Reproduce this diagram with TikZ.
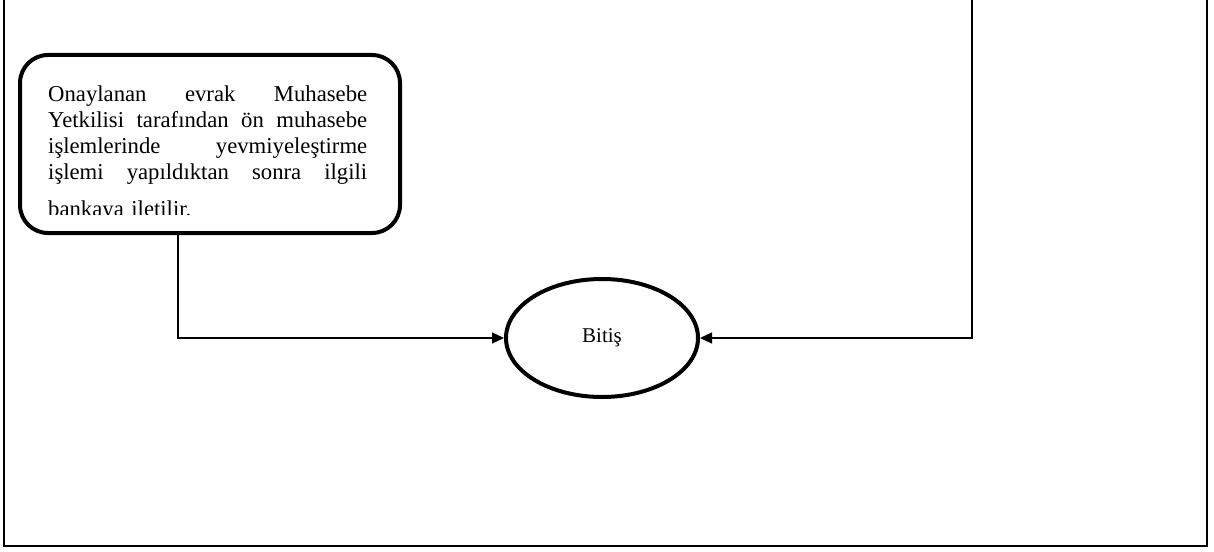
\documentclass[tikz,border=0pt]{standalone}
\usepackage{fontspec}
\setmainfont{Liberation Serif}
\usetikzlibrary{arrows.meta,positioning,shapes.geometric}
\newcommand{\jline}[1]{\makebox[319pt][l]{#1}}

\begin{document}
\begin{tikzpicture}[x=1pt,y=-1pt,>=Triangle,every node/.style={align=center},
  procbox/.style={draw, line width=4pt, rounded corners=28pt, minimum width=380pt, minimum height=178pt},
  endstate/.style={draw, ellipse, line width=4pt, minimum width=192pt, minimum height=118pt, font=\fontsize{21}{24}\selectfont},
  flowline/.style={line width=1.3pt, -{Triangle[length=12pt,width=11pt]}}]
  \useasboundingbox (0,0) rectangle (1214,551);
  % outer frame, open at the top
  \draw[line width=2.5pt] (4,0) -- (4,546) -- (1207,546) -- (1207,0);
  \node[procbox] (muhasebe) at (210,144) {};
  \begin{scope}
    \clip (40,70) rectangle (390,214);
    \node[anchor=north west, text width=319pt, align=left, inner sep=0pt, font=\fontsize{22.7}{25}\selectfont] (metin) at (48,86)
      {\jline{Onaylanan \hfill evrak \hfill Muhasebe}\\[1pt]
       \jline{Yetkilisi \hfill tarafından \hfill ön \hfill muhasebe}\\[1pt]
       \jline{işlemlerinde \hfill yevmiyeleştirme}\\[1pt]
       \jline{işlemi \hfill yapıldıktan \hfill sonra \hfill ilgili}\\[12pt]
       bankaya iletilir.};
  \end{scope}
  \node[endstate] (bitis) at (602,338) {Bitiş};
  \coordinate (ust) at (972,0);
  \draw[flowline] ([xshift=-32pt]muhasebe.south) |- (bitis.west);
  \draw[flowline] (ust) |- (bitis.east);
\end{tikzpicture}
\end{document}
